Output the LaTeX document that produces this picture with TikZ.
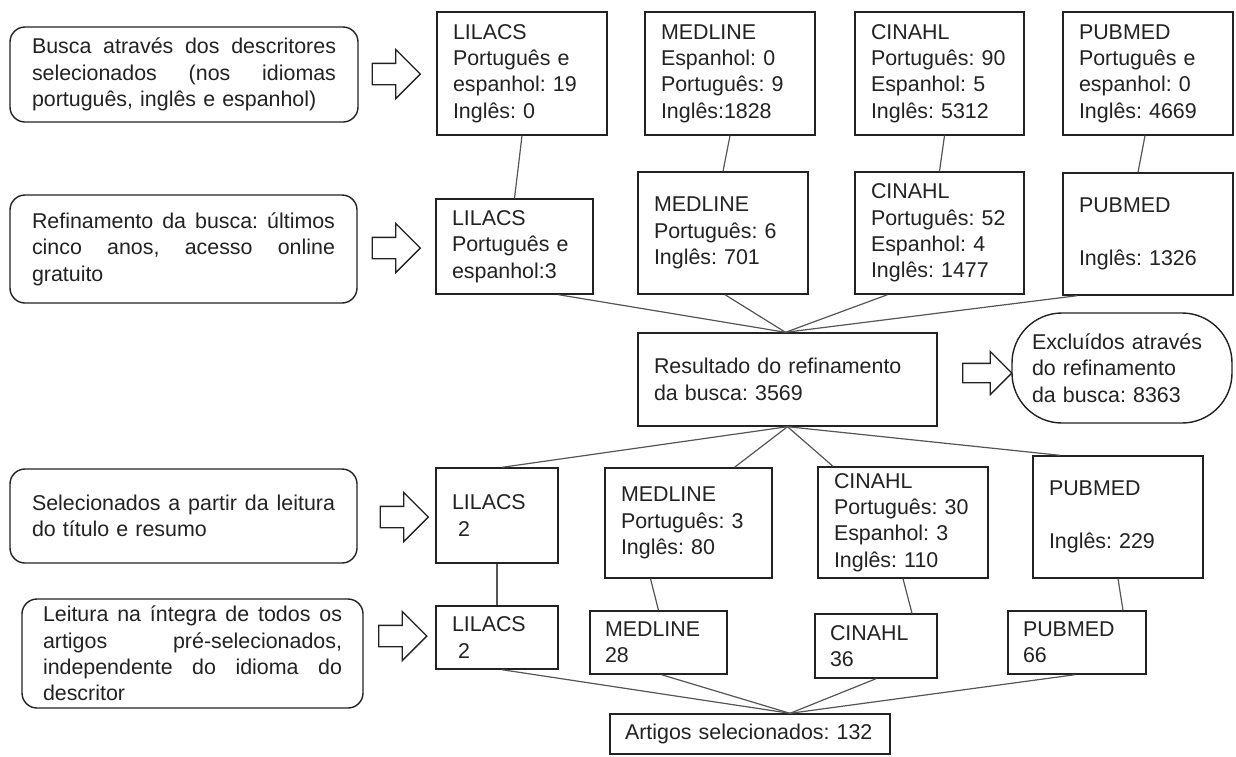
\documentclass[tikz,border=0pt]{standalone}
\usepackage{fontspec}
\setmainfont{Liberation Sans}
\usetikzlibrary{shapes.arrows}
\definecolor{ink}{HTML}{222222}
\definecolor{edge}{HTML}{555555}
\frenchspacing
\begin{document}
\begin{tikzpicture}[
  x=1pt, y=-1pt,
  every node/.style={font=\fontsize{21.4}{26.4}\selectfont\frenchspacing, text=ink},
  db/.style={draw=ink, line width=1.4pt, fill=white, inner xsep=16pt, inner ysep=0pt, align=left},
  stage/.style={draw=ink, line width=1.4pt, fill=white, rounded corners=15pt, inner xsep=22pt, inner ysep=0pt, align=left},
  bigarrow/.style={single arrow, draw=ink, line width=1.3pt, fill=white, minimum height=48pt, minimum width=48pt, single arrow head extend=14pt, inner sep=10pt},
  link/.style={draw=edge, line width=1.2pt}
]
\useasboundingbox (0,0) rectangle (1236,756);

% stage boxes (left)
\node[stage, minimum width=348pt, minimum height=95pt, text width=304pt] (B1) at (184,74.5)
  {\makebox[304pt]{Busca\hfill através\hfill dos\hfill descritores}\\\makebox[304pt]{selecionados\hfill (nos\hfill idiomas}\\português, inglês e espanhol)};
\node[stage, minimum width=347pt, minimum height=108pt, text width=303pt] (B2) at (183.5,249)
  {\makebox[303pt]{Refinamento\hfill da\hfill busca:\hfill últimos}\\\makebox[303pt]{cinco\hfill anos,\hfill acesso\hfill online}\\gratuito};
\node[stage, minimum width=347pt, minimum height=94pt, text width=303pt] (B3) at (183.5,516)
  {\makebox[303pt]{Selecionados\hfill a\hfill partir\hfill da\hfill leitura}\\do título e resumo};
\node[stage, minimum width=341pt, minimum height=109pt, text width=299pt, inner xsep=21pt] (B4) at (192.5,653.5)
  {\makebox[299pt]{Leitura\hfill na\hfill íntegra\hfill de\hfill todos\hfill os}\\\makebox[299pt]{artigos\hfill pré-selecionados,}\\\makebox[299pt]{independente\hfill do\hfill idioma\hfill do}\\descritor};

% block arrows
\node[bigarrow] (A1) at (391,74) {};
\node[bigarrow] (A2) at (391,248) {};
\node[bigarrow] (A3) at (399,517) {};
\node[bigarrow] (A4) at (397.5,636) {};
\node[bigarrow, minimum width=42pt, single arrow head extend=12pt, inner sep=9pt, minimum height=49pt] (A5) at (982.5,373) {};

% row 1
\node[db, minimum width=170pt, minimum height=123pt, text width=138pt] (L1) at (522,73.5)
  {LILACS\\Português~e\\espanhol:~19\\Inglês:~0};
\node[db, minimum width=170pt, minimum height=123pt, text width=138pt] (M1) at (730,73.5)
  {MEDLINE\\Espanhol:~0\\Português:~9\\Inglês:1828};
\node[db, minimum width=169pt, minimum height=123pt, text width=137pt] (C1) at (939.5,73.5)
  {CINAHL\\Português:~90\\Espanhol:~5\\Inglês:~5312};
\node[db, minimum width=170pt, minimum height=123pt, text width=138pt] (P1) at (1148,73.5)
  {PUBMED\\Português~e\\espanhol:~0\\Inglês:~4669};

% row 2
\node[db, minimum width=157pt, minimum height=95pt, text width=125pt] (L2) at (514.5,246.5)
  {LILACS\\Português~e\\espanhol:3};
\node[db, minimum width=170pt, minimum height=122pt, text width=138pt] (M2) at (723,233)
  {MEDLINE\\Português:~6\\Inglês:~701};
\node[db, minimum width=169pt, minimum height=122pt, text width=137pt] (C2) at (939.5,233)
  {CINAHL\\Português:~52\\Espanhol:~4\\Inglês:~1477};
\node[db, minimum width=170pt, minimum height=122pt, text width=138pt] (P2) at (1148,234)
  {PUBMED\\\mbox{}\\Inglês:~1326};

% result
\node[db, minimum width=299pt, minimum height=93pt, text width=267pt] (R) at (787.5,379.5)
  {Resultado do refinamento\\da busca:~3569};
\node[db, rounded corners=50pt, minimum width=220pt, minimum height=110pt, text width=180pt, inner xsep=20pt] (E) at (1122,368)
  {Excluídos através\\do refinamento\\da busca:~8363};

% row 3
\node[db, minimum width=122pt, minimum height=95pt, text width=90pt] (L3) at (497,515.5)
  {LILACS\\\hspace*{6pt}2};
\node[db, minimum width=167pt, minimum height=110pt, text width=135pt] (M3) at (688.5,523)
  {MEDLINE\\Português:~3\\Inglês:~80};
\node[db, minimum width=170pt, minimum height=111pt, text width=138pt] (C3) at (903,522.5)
  {CINAHL\\Português:~30\\Espanhol:~3\\Inglês:~110};
\node[db, minimum width=170pt, minimum height=122pt, text width=138pt] (P3) at (1118,517)
  {PUBMED\\\mbox{}\\Inglês:~229};

% row 4
\node[db, minimum width=122pt, minimum height=63pt, text width=90pt] (L4) at (497,637.5)
  {LILACS\\\hspace*{6pt}2};
\node[db, minimum width=137pt, minimum height=63pt, inner xsep=15pt, text width=107pt] (M4) at (658.5,642.5)
  {MEDLINE\\28};
\node[db, minimum width=122pt, minimum height=64pt, text width=92pt, inner xsep=15pt] (C4) at (876,646)
  {CINAHL\\36};
\node[db, minimum width=138pt, minimum height=63pt, text width=108pt, inner xsep=15pt] (P4) at (1077,642.5)
  {PUBMED\\66};

% final
\node[db, minimum width=280pt, minimum height=40pt, text width=250pt, inner xsep=15pt] (F) at (750,734)
  {Artigos~selecionados:~132};

% connectors
\draw[link] (L1.south) -- (L2.north);
\draw[link] (M1.south) -- (M2.north);
\draw[link] ([xshift=5pt]C1.south) -- (C2.north);
\draw[link] ([xshift=-3pt]P1.south) -- ([xshift=-10pt]P2.north);

\coordinate (Rin) at ([xshift=-2pt]R.north);
\draw[link] ([xshift=44pt]L2.south) -- (Rin);
\draw[link] ([xshift=2pt]M2.south) -- (Rin);
\draw[link] ([xshift=-52pt]C2.south) -- (Rin);
\draw[link] ([xshift=-71pt]P2.south) -- (Rin);

\draw[link] (R.south) -- ([xshift=5pt]L3.north);
\draw[link] (R.south) -- ([xshift=46pt]M3.north);
\draw[link] (R.south) -- ([xshift=-70pt]C3.north);
\draw[link] (R.south) -- ([xshift=-58pt]P3.north);

\draw[link] (L3.south) -- (L4.north);
\draw[link] ([xshift=-38pt]M3.south) -- (M4.north);
\draw[link] (C3.south) -- ([xshift=36pt]C4.north);
\draw[link] (P3.south) -- ([xshift=46pt]P4.north);

\coordinate (Fin) at ([xshift=40pt]F.north);
\draw[link] ([xshift=5pt]L4.south) -- (Fin);
\draw[link] ([xshift=3pt]M4.south) -- (Fin);
\draw[link] (C4.south) -- (Fin);
\draw[link] ([xshift=-2pt]P4.south) -- (Fin);
\end{tikzpicture}
\end{document}
